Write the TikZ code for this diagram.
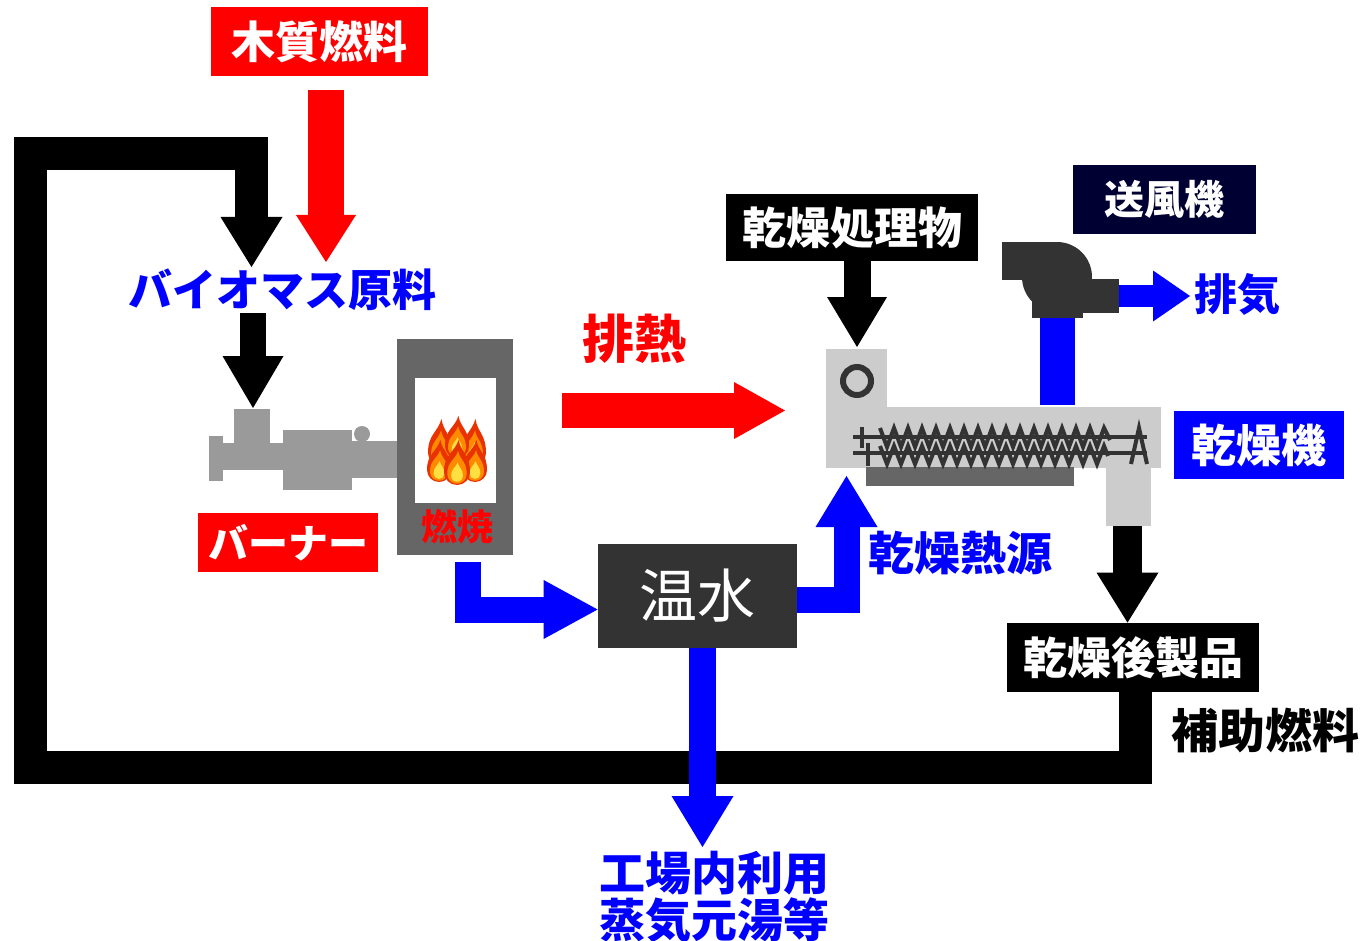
\documentclass[tikz,border=0pt]{standalone}
\usepackage{fontspec}
\setmainfont{Noto Sans CJK JP}
\usetikzlibrary{arrows.meta}

\definecolor{cred}{HTML}{FF0000}
\definecolor{cblue}{HTML}{0000FF}
\definecolor{cdark}{HTML}{333333}
\definecolor{cmid}{HTML}{666666}
\definecolor{cburner}{HTML}{9A9A9A}
\definecolor{clight}{HTML}{CCCCCC}
\definecolor{cnavy}{HTML}{000033}
\definecolor{flameA}{HTML}{E83200}
\definecolor{flameB}{HTML}{FF8A00}
\definecolor{flameC}{HTML}{FFE040}

\newcommand\fsz[2]{\fontsize{#1}{#2}\selectfont}

% one teardrop flame: x, y of bulb centre, bulb radius, tip height, colour
\newcommand\flamedrop[5]{%
  \fill[#5] ({#1+0.12*#3},{#2-#4})
    .. controls ({#1+0.3*#3},{#2-0.6*#4}) and ({#1+#3},{#2-0.55*#4}) .. ({#1+#3},{#2})
    arc[start angle=0,end angle=180,radius=#3]
    .. controls ({#1-#3},{#2-0.55*#4}) and ({#1-0.2*#3},{#2-0.6*#4}) .. cycle;}
\newcommand\flame[4]{%
  \flamedrop{#1}{#2}{#3}{#4}{flameA}%
  \flamedrop{#1}{#2+0.15*#3}{0.75*#3}{0.72*#4}{flameB}%
  \flamedrop{#1}{#2+0.3*#3}{0.45*#3}{0.42*#4}{flameC}}

\begin{document}
\begin{tikzpicture}[x=0.5pt,y=-0.5pt,
  box/.style={inner sep=0pt, text=white, font=\bfseries\fsz{22pt}{24pt}},
  jt/.style={inner sep=0pt, font=\bfseries\fsz{#1}{#1}},
  pipe/.style n args={4}{draw=#1, line width=#2,
    -{Triangle[width=#3,length=#4,line width=0pt]}},
  bar/.style n args={2}{draw=#1, line width=#2}]
\useasboundingbox (0,0) rectangle (1364,941);
\fill[white] (0,0) rectangle (1364,941);

% ---------- labels and boxes ----------
\node[box, fill=cred, minimum width=108.5pt, minimum height=34.5pt] (wood) at (319.5,41.5) {木質燃料};
\node[jt=22pt, text=cblue] (bio) at (282,290) {バイオマス原料};
\node[box, fill=cred, minimum width=90pt, minimum height=29.5pt, font=\bfseries\fsz{20pt}{22pt}] (burnerlbl) at (288,542.5) {バーナー};
\node[jt=26pt, text=cred] (heat) at (634,339) {排熱};
\node[box, fill=black, minimum width=126pt, minimum height=33.5pt] (dryin) at (852,227.5) {乾燥処理物};
\node[box, fill=cnavy, minimum width=91.5pt, minimum height=34.5pt, font=\bfseries\fsz{20pt}{22pt}] (fanlbl) at (1164.5,199.5) {送風機};
\node[jt=21.5pt, text=cblue] (exhaust) at (1237,294) {排気};
\node[box, fill=cblue, minimum width=85pt, minimum height=34pt, font=\bfseries\fsz{22.5pt}{24pt}] (dryerlbl) at (1259,445) {乾燥機};
\node[jt=23pt, text=cblue] (heatsrc) at (960,553) {乾燥熱源};
\node[box, fill=black, minimum width=126pt, minimum height=34.5pt] (product) at (1133,657.5) {乾燥後製品};
\node[jt=23.5pt] (aux) at (1265,731) {補助燃料};
\node[box, fill=cdark, minimum width=99.5pt, minimum height=52pt, font=\fsz{29pt}{30pt}] (warm) at (697.5,596) {温水};
\node[inner sep=0pt, text=cblue, align=center, font=\bfseries\fsz{23pt}{23.5pt}] (use) at (714,897) {工場内利用\\蒸気元湯等};

% ---------- furnace ----------
\node[fill=cmid, inner sep=0pt, minimum width=58pt, minimum height=108pt] (furnace) at (455,447) {};
\fill[white] (415,378) rectangle (496,503);
\flame{440}{453}{12}{34}
\flame{474}{453}{12}{34}
\flame{457}{446}{12}{30}
\flame{439}{470}{12}{30}
\flame{475}{470}{12}{30}
\flame{457}{472}{13}{32}
\node[jt=18pt, text=cred] (burn) at (457,527) {燃焼};

% ---------- burner ----------
\begin{scope}[fill=cburner]
  \fill (234,409) rectangle (270,443);
  \fill (209,436) rectangle (223,481);
  \fill (223,443) rectangle (283,470);
  \fill (283,430) rectangle (352,490);
  \fill (352,441) rectangle (397,478);
  \fill (362,434) circle[radius=8];
\end{scope}
\coordinate (hopper) at (253,408);

% ---------- dryer ----------
\draw[bar={cblue}{17.5pt}] (1057.5,405) -- (1057.5,316);
\begin{scope}[fill=clight]
  \fill (826,349) rectangle (887,468);
  \fill (826,407) rectangle (1161,468);
  \fill (1106,466) rectangle (1151,526);
\end{scope}
\fill[cmid] (866,467) rectangle (1074,486);
\draw[cdark, line width=3pt] (857,381) circle[radius=14];
\begin{scope}[cdark, line width=2pt]
  \draw (853,437) -- (1147,437);
  \draw (853,453) -- (1147,453);
  \draw (862,427) -- (862,448);
  \draw (868,443) -- (868,466);
  \draw (880,428) \foreach \i in {0,...,15} { -- ({887+14*\i},447) -- ({894+14*\i},428) } -- (1110,440);
  \draw (880,446) \foreach \i in {0,...,15} { -- ({887+14*\i},464) -- ({894+14*\i},446) } -- (1108,456);
  \draw (1131,464) -- (1139,428) -- (1147,464);
\end{scope}
\coordinate (dryertop) at (857,347);
\coordinate (dryerbot) at (846.5,476);
\coordinate (outlet) at (1127.5,526);

% ---------- fan ----------
\begin{scope}[fill=cdark]
  \fill (1057,277) circle[radius=35];
  \fill (1002,242) rectangle (1057,280);
  \fill (1057,279) rectangle (1119,313);
  \fill (1032,296) rectangle (1083,318);
\end{scope}
\coordinate (fanout) at (1119,296);

% ---------- connectors ----------
% recycled product loop back to the raw material
\draw[pipe={black}{16.5pt}{31pt}{25pt}]
  (product.south -| 1135,0) -- (1135,767) -- (30.5,767) -- (30.5,153.5) -- (251.5,153.5) -- (251.5,267);
\draw[pipe={cred}{18pt}{30pt}{23.5pt}] (326,90) -- (326,262);
\draw[pipe={black}{13pt}{30.5pt}{26pt}] (253,313) -- (hopper);
\draw[pipe={cred}{17.5pt}{28.5pt}{25.5pt}] (562,410.5) -- (785,410.5);
\draw[pipe={black}{13.5pt}{30pt}{25pt}] (dryin.south -| dryertop) -- (dryertop);
\draw[pipe={cblue}{11pt}{25.5pt}{18.5pt}] (fanout) -- (1190,296);
\draw[pipe={black}{14.5pt}{31pt}{25pt}] (outlet) -- (product.north -| outlet);
\draw[pipe={cblue}{13pt}{29.5pt}{27pt}] (467.5,562) -- (467.5,609.5) -- (warm.west |- 0,609.5);
\draw[pipe={cblue}{13pt}{31pt}{25.5pt}] (warm.east |- 0,600) -- (846.5,600) -- (dryerbot);
\draw[pipe={cblue}{13.5pt}{31pt}{25.5pt}] (warm.south -| 702.5,0) -- (702.5,847);
\end{tikzpicture}
\end{document}
